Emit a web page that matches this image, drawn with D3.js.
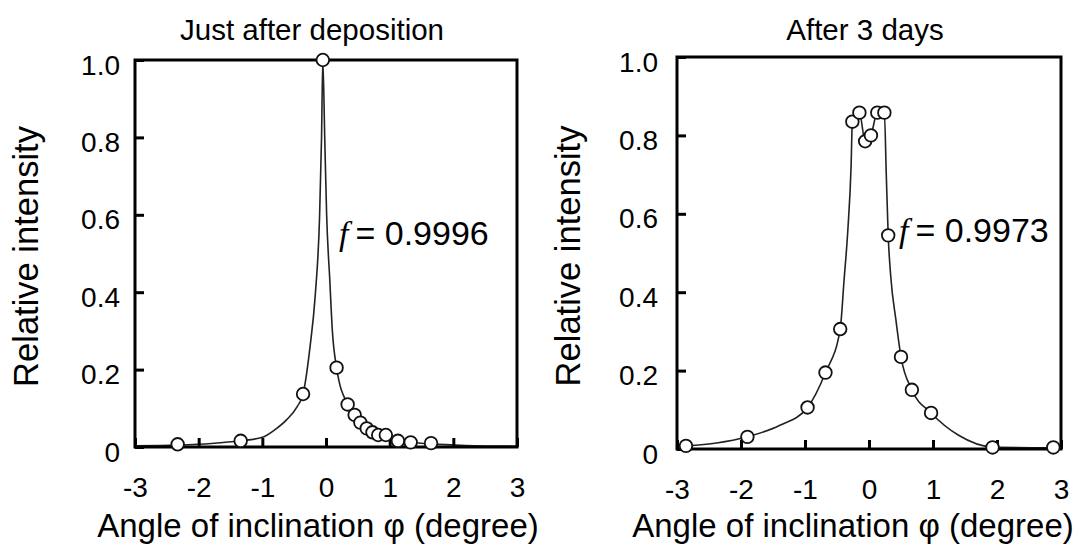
<!DOCTYPE html>
<html>
<head>
<meta charset="utf-8">
<script src="https://cdn.jsdelivr.net/npm/d3@7"></script>
<style>
  body { margin: 0; background: #fff; }
  text { font-family: "Liberation Sans", Arial, sans-serif; fill: #000; }
</style>
</head>
<body>
<div id="chart"></div>
<script>
// tick values and labels
var xTicks = [-3, -2, -1, 0, 1, 2, 3];
var yTicks = [0, 0.2, 0.4, 0.6, 0.8, 1.0];
var yTickLabels = ["0", "0.2", "0.4", "0.6", "0.8", "1.0"];
var titles = ["Just after deposition", "After 3 days"];
var fValues = ["0.9996", "0.9973"];

// just after deposition: measured points
var depX = [-2.33, -1.34, -0.36, -0.05, 0.166, 0.34, 0.45, 0.54, 0.64, 0.73, 0.82, 0.94, 1.13, 1.33, 1.65];
var depY = [0.007, 0.016, 0.137, 1.0, 0.205, 0.11, 0.083, 0.063, 0.048, 0.038, 0.031, 0.031, 0.016, 0.012, 0.010];
// fitted curve
var depCurveX = [-3, -2.33, -1.8, -1.34, -1.0, -0.8, -0.62, -0.45, -0.36, -0.25, -0.17, -0.1, -0.07, -0.05, -0.02, 0.01, 0.06, 0.10, 0.166, 0.34, 0.45, 0.64, 0.82, 1.13, 1.65, 2.2, 3];
var depCurveY = [0.003, 0.005, 0.009, 0.016, 0.025, 0.045, 0.07, 0.105, 0.137, 0.26, 0.39, 0.6, 0.8, 1.0, 0.8, 0.6, 0.43, 0.30, 0.205, 0.11, 0.083, 0.048, 0.031, 0.016, 0.008, 0.004, 0.002];

// after 3 days: measured points
var dayX = [-2.86, -1.90, -0.96, -0.68, -0.45, -0.26, -0.15, -0.06, 0.03, 0.13, 0.24, 0.30, 0.50, 0.67, 0.97, 1.93, 2.88];
var dayY = [0.008, 0.031, 0.106, 0.195, 0.306, 0.835, 0.858, 0.785, 0.80, 0.858, 0.858, 0.545, 0.235, 0.151, 0.092, 0.004, 0.004];
var dayCurveX = [-2.86, -1.9, -1.4, -0.96, -0.68, -0.45, -0.39, -0.33, -0.28, -0.26, -0.15, -0.06, 0.03, 0.13, 0.24, 0.27, 0.30, 0.34, 0.42, 0.50, 0.67, 0.97, 1.4, 1.93, 2.88];
var dayCurveY = [0.008, 0.031, 0.06, 0.106, 0.195, 0.306, 0.43, 0.56, 0.72, 0.835, 0.858, 0.785, 0.80, 0.858, 0.858, 0.70, 0.545, 0.44, 0.33, 0.235, 0.151, 0.092, 0.035, 0.005, 0.003];

var width = 1081, height = 557;

var svg = d3.select("#chart")
    .append("svg")
    .attr("width", width)
    .attr("height", height);

svg.append("rect").attr("width", width).attr("height", height).attr("fill", "#fff");

var panels = [
    { left: 135, right: 517, top: 60, bottom: 447, gap: 15, ylab: 38, xlab: 318, title: 312, fx: 339, fy: 245,
      px: depX, py: depY, cx: depCurveX, cy: depCurveY },
    { left: 677, right: 1061, top: 57, bottom: 449, gap: 19, ylab: 580, xlab: 853, title: 865, fx: 899, fy: 242,
      px: dayX, py: dayY, cx: dayCurveX, cy: dayCurveY }
];

panels.forEach(function (p, i) {
    var x = d3.scaleLinear().domain([-3, 3]).range([p.left, p.right]);
    var y = d3.scaleLinear().domain([0, 1]).range([p.bottom, p.top]);

    // fitted curve
    var line = d3.line()
        .x(function (d) { return x(d[0]); })
        .y(function (d) { return y(d[1]); })
        .curve(d3.curveMonotoneX);
    svg.append("path")
        .datum(d3.zip(p.cx, p.cy))
        .attr("d", line)
        .attr("fill", "none")
        .attr("stroke", "#222")
        .attr("stroke-width", 1.6);

    // frame
    svg.append("rect")
        .attr("x", p.left).attr("y", p.top)
        .attr("width", p.right - p.left).attr("height", p.bottom - p.top)
        .attr("fill", "none").attr("stroke", "#000").attr("stroke-width", 3);

    // x axis
    var gx = svg.append("g")
        .attr("transform", "translate(0," + p.bottom + ")")
        .call(d3.axisBottom(x).tickValues(xTicks).tickSize(-9).tickPadding(30)
            .tickFormat(function (d) { return String(d); }));
    gx.select(".domain").remove();
    gx.selectAll("line").attr("stroke-width", 3);
    gx.selectAll("text").style("font-size", "28px").style("font-family", "Liberation Sans, Arial, sans-serif");

    // y axis
    var gy = svg.append("g")
        .attr("transform", "translate(" + p.left + ",0)")
        .call(d3.axisLeft(y).tickValues(yTicks).tickSize(-9).tickPadding(p.gap)
            .tickFormat(function (d, k) { return yTickLabels[k]; }));
    gy.select(".domain").remove();
    gy.selectAll("line").attr("stroke-width", 3);
    gy.selectAll("text").attr("dy", "0.5em").style("font-size", "28px").style("font-family", "Liberation Sans, Arial, sans-serif");

    // points
    svg.append("g").selectAll("circle")
        .data(d3.zip(p.px, p.py))
        .enter()
        .append("circle")
        .attr("cx", function (d) { return x(d[0]); })
        .attr("cy", function (d) { return y(d[1]); })
        .attr("r", 6.3)
        .attr("fill", "#fff")
        .attr("stroke", "#111")
        .attr("stroke-width", 1.8);

    // titles and labels
    svg.append("text")
        .attr("x", p.title).attr("y", 40)
        .attr("text-anchor", "middle")
        .style("font-size", "29.5px")
        .text(titles[i]);

    svg.append("text")
        .attr("x", p.xlab).attr("y", 537)
        .attr("text-anchor", "middle")
        .style("font-size", "33px")
        .text("Angle of inclination φ (degree)");

    svg.append("text")
        .attr("transform", "translate(" + p.ylab + "," + ((p.top + p.bottom) / 2 + 3) + ")rotate(-90)")
        .attr("text-anchor", "middle")
        .style("font-size", "34.5px")
        .text("Relative intensity");

    var ft = svg.append("text")
        .attr("x", p.fx).attr("y", p.fy)
        .style("font-size", "34px");
    ft.append("tspan")
        .style("font-family", "Liberation Serif, Times New Roman, serif")
        .style("font-style", "italic")
        .text("f");
    ft.append("tspan").attr("dx", 7).text("= " + fValues[i]);
});
</script>
</body>
</html>
